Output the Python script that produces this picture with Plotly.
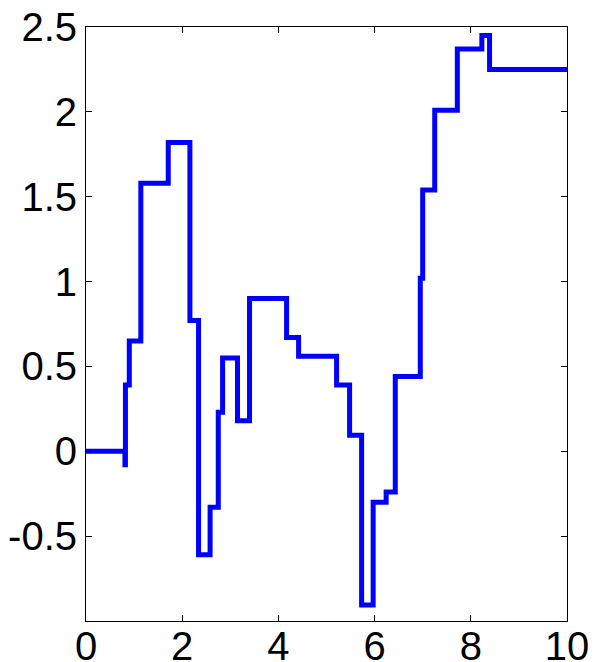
import plotly.graph_objects as go

# step positions (x where each level starts) and the level values
step_x = [0, 0.81, 0.82, 0.90, 1.14, 1.71, 2.16, 2.34, 2.58, 2.75, 2.84, 3.15,
          3.40, 4.17, 4.42, 5.21, 5.48, 5.73, 5.97, 6.24, 6.43, 6.95, 7.00,
          7.25, 7.72, 8.23, 8.39, 10]
step_y = [0, -0.08, 0.39, 0.65, 1.58, 1.82, 0.77, -0.61, -0.33, 0.23, 0.55, 0.18,
          0.90, 0.67, 0.56, 0.39, 0.094, -0.905, -0.30, -0.24, 0.44, 1.02, 1.54,
          2.01, 2.37, 2.45, 2.25, 2.25]

x_ticks = [0, 2, 4, 6, 8, 10]
y_ticks = [-0.5, 0, 0.5, 1, 1.5, 2, 2.5]
y_labels = ['-0.5', '0', '0.5', '1', '1.5', '2', '2.5']

fig = go.Figure()
fig.add_trace(go.Scatter(
    x=step_x, y=step_y, mode='lines', line_shape='hv',
    line=dict(color='#0000ff', width=5),
))

axis_common = dict(
    showline=True, linecolor='black', linewidth=1, mirror='ticks',
    ticks='inside', ticklen=6, tickcolor='black', tickwidth=1,
    showgrid=False, zeroline=False, automargin=False,
    ticklabeloverflow='allow',
    tickfont=dict(family='Liberation Sans, Arial, sans-serif', size=40, color='black'),
)
fig.update_xaxes(range=[0, 10], tickvals=x_ticks, ticklabelstandoff=-10, **axis_common)
fig.update_yaxes(range=[-1.0, 2.5001], tickvals=y_ticks, ticktext=y_labels, **axis_common)

# page body has an 8px margin, so the figure is 8px smaller than the window
fig.update_layout(
    width=592, height=654,
    margin=dict(l=78, r=33, t=19, b=41),
    paper_bgcolor='white', plot_bgcolor='white',
    showlegend=False,
)
fig.write_html("out.html")
